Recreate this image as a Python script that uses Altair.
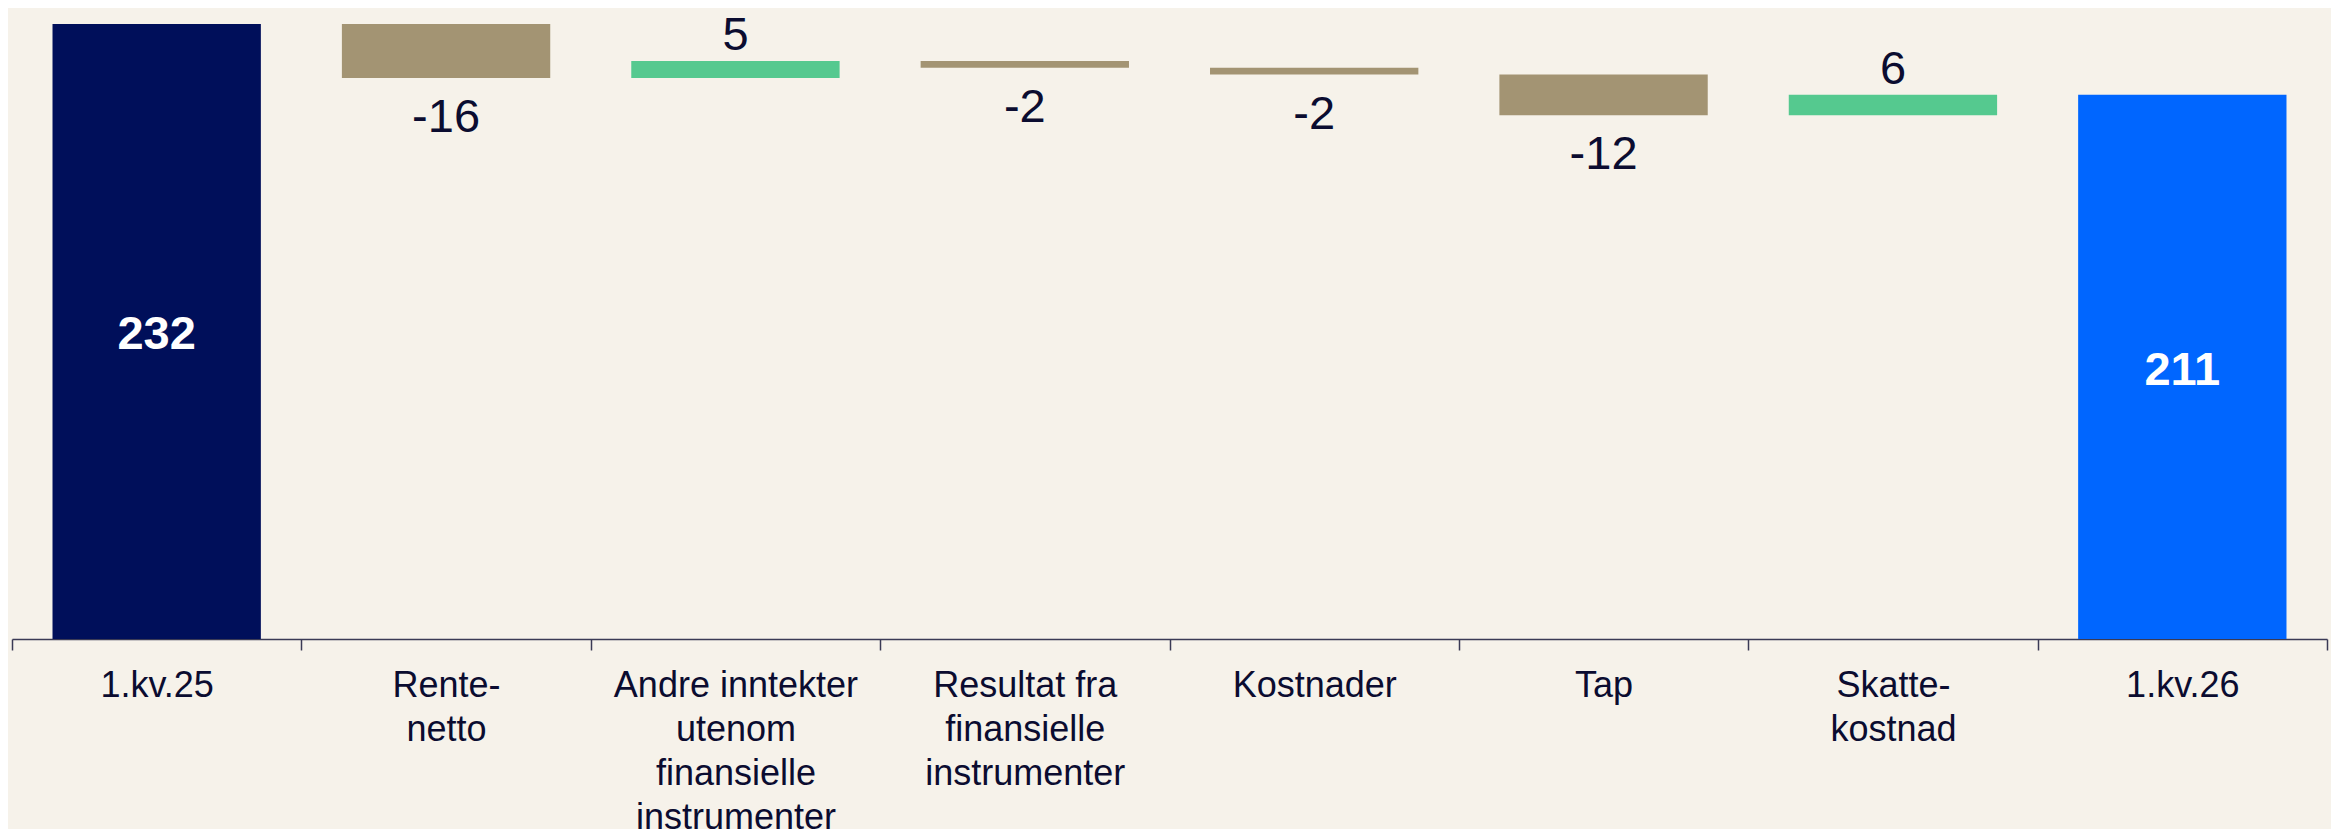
import altair as alt
import pandas as pd

# ---- data ----
categories = [
    "1.kv.25",
    "Rente-\nnetto",
    "Andre inntekter\nutenom\nfinansielle\ninstrumenter",
    "Resultat fra\nfinansielle\ninstrumenter",
    "Kostnader",
    "Tap",
    "Skatte-\nkostnad",
    "1.kv.26",
]
values = [232, -16, 5, -2, -2, -12, 6, 211]
kinds = ["start", "decrease", "increase", "decrease", "decrease", "decrease", "increase", "end"]

kind_domain = ["start", "decrease", "increase", "end"]
kind_colors = ["#000F5A", "#A39473", "#55C98F", "#0066FF"]

Y_MIN = 50
Y_MAX = 236.7

# ---- build waterfall table ----
rows = []
running = 0
for cat, v, k in zip(categories, values, kinds):
    if k in ("start", "end"):
        start, end = Y_MIN, v
        running = v
    else:
        start, end = running, running + v
        running = end
    rows.append(
        dict(
            cat=cat,
            value=v,
            kind=k,
            start=start,
            end=end,
            lo=min(start, end),
            hi=max(start, end),
            mid=(start + end) / 2,
            label=str(v),
        )
    )
df = pd.DataFrame(rows)

FONT = "Liberation Sans"
TEXT_COLOR = "#0B0C30"

x_enc = alt.X(
    "cat:N",
    sort=categories,
    scale=alt.Scale(paddingInner=0, paddingOuter=0),
    axis=alt.Axis(
        title=None,
        labelAngle=0,
        labelExpr="split(datum.label, '\\n')",
        tickBand="extent",
        labelFont=FONT,
        labelFontSize=36,
        labelLineHeight=44,
        labelColor=TEXT_COLOR,
        labelPadding=18,
        labelLimit=500,
        labelOverlap=False,
        labelBaseline="top",
        domainColor="#3A3A55",
        domainWidth=1.5,
        tickColor="#3A3A55",
        tickWidth=1.5,
        tickSize=11,
        grid=False,
    ),
)
y_scale = alt.Scale(domain=[Y_MIN, Y_MAX], clamp=True, nice=False, zero=False)

base = alt.Chart(df)

bars = base.mark_bar(width=alt.RelativeBandSize(0.72)).encode(
    x=x_enc,
    y=alt.Y("start:Q", scale=y_scale, axis=None),
    y2="end:Q",
    color=alt.Color(
        "kind:N",
        scale=alt.Scale(domain=kind_domain, range=kind_colors),
        legend=None,
    ),
)

totals_text = base.transform_filter(
    "datum.kind == 'start' || datum.kind == 'end'"
).mark_text(
    font=FONT, fontSize=47, fontWeight="bold", color="white", baseline="middle", dy=4
).encode(
    x=alt.X("cat:N", sort=categories),
    y=alt.Y("mid:Q", scale=y_scale),
    text="label:N",
)

neg_text = base.transform_filter("datum.kind == 'decrease'").mark_text(
    font=FONT, fontSize=47, color=TEXT_COLOR, baseline="top", dy=17
).encode(
    x=alt.X("cat:N", sort=categories),
    y=alt.Y("lo:Q", scale=y_scale),
    text="label:N",
)

pos_text = base.transform_filter("datum.kind == 'increase'").mark_text(
    font=FONT, fontSize=47, color=TEXT_COLOR, baseline="alphabetic", dy=-11
).encode(
    x=alt.X("cat:N", sort=categories),
    y=alt.Y("hi:Q", scale=y_scale),
    text="label:N",
)

chart = (
    alt.layer(bars, totals_text, neg_text, pos_text)
    .properties(
        width=2315,
        height=631,
        padding={"left": 4, "top": 0, "right": 4, "bottom": 192},
        autosize=alt.AutoSizeParams(type="none"),
        background="#F6F2EA",
    )
    .configure_view(stroke=None)
)

chart.save("out.html", embed_options={"renderer": "svg", "actions": False})
